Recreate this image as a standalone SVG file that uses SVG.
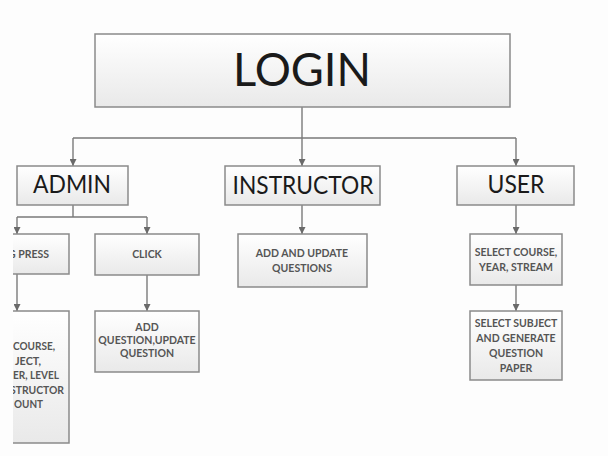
<svg xmlns="http://www.w3.org/2000/svg" width="608" height="456" viewBox="0 0 608 456">
<style>
.box{fill:url(#g);stroke:#8a8a8a;stroke-width:1.5}
.big{font-family:Lato,"Liberation Sans",sans-serif;fill:#1a1a1a;text-anchor:middle}
.sm{font-family:Lato,"Liberation Sans",sans-serif;font-weight:bold;fill:#555;text-anchor:middle;font-size:10.5px}
.lf{font-family:Lato,"Liberation Sans",sans-serif;font-weight:bold;fill:#555;font-size:11.5px}
.ln{fill:none;stroke:#7a7a7a;stroke-width:1.4}
.ar{marker-end:url(#ah)}
</style>
<defs>
<linearGradient id="g" x1="0" y1="0" x2="0" y2="1">
<stop offset="0" stop-color="#ffffff"/>
<stop offset="1" stop-color="#e9e9e9"/>
</linearGradient>
<marker id="ah" markerUnits="userSpaceOnUse" markerWidth="7" markerHeight="7" refX="7" refY="3.5" orient="auto">
<path d="M0,0 L7,3.5 L0,7 z" fill="#6a6a6a"/>
</marker>
<clipPath id="cl"><rect x="13" y="0" width="595" height="456"/></clipPath>
</defs>
<rect width="608" height="456" fill="#fdfdfd"/>
<g id="connectors">
<path class="ln" d="M302,107 V138 M73,138 H516"/>
<path class="ln ar" d="M73,138 V166"/>
<path class="ln ar" d="M302,138 V166"/>
<path class="ln ar" d="M516,138 V166"/>
<path class="ln" d="M73,205 V217 M17,217 H147"/>
<path class="ln ar" d="M17,217 V234"/>
<path class="ln ar" d="M147,217 V234"/>
<path class="ln ar" d="M17,274 V311"/>
<path class="ln ar" d="M147,275 V311"/>
<path class="ln ar" d="M302,205 V234"/>
<path class="ln ar" d="M516,205 V234"/>
<path class="ln ar" d="M516,285 V311"/>
</g>
<g id="login">
<rect class="box" x="95" y="34" width="415" height="73"/>
<text class="big" x="302" y="86" font-size="46" textLength="138" lengthAdjust="spacingAndGlyphs">LOGIN</text>
</g>
<g id="admin">
<rect class="box" x="17" y="166" width="111" height="39"/>
<text class="big" x="72" y="193" font-size="25" textLength="78" lengthAdjust="spacingAndGlyphs">ADMIN</text>
</g>
<g id="instructor">
<rect class="box" x="225" y="166" width="155" height="39"/>
<text class="big" x="303" y="194" font-size="25" textLength="141" lengthAdjust="spacingAndGlyphs">INSTRUCTOR</text>
</g>
<g id="user">
<rect class="box" x="457" y="166" width="117" height="39"/>
<text class="big" x="516" y="193" font-size="25" textLength="57" lengthAdjust="spacingAndGlyphs">USER</text>
</g>
<g id="press" clip-path="url(#cl)">
<rect class="box" x="-60" y="234" width="129" height="40"/>
<text class="sm" x="49" y="258" style="text-anchor:end">G PRESS</text>
</g>
<g id="click">
<rect class="box" x="95" y="234" width="104" height="41"/>
<text class="sm" x="147" y="258">CLICK</text>
</g>
<g id="account" clip-path="url(#cl)">
<rect class="box" x="-60" y="311" width="129" height="132"/>
<text class="lf" x="13" y="350" textLength="42" lengthAdjust="spacingAndGlyphs">COURSE,</text>
<text class="lf" x="15" y="365" textLength="26" lengthAdjust="spacingAndGlyphs">JECT,</text>
<text class="lf" x="13" y="379" textLength="46" lengthAdjust="spacingAndGlyphs">ER, LEVEL</text>
<text class="lf" x="10" y="394" textLength="54" lengthAdjust="spacingAndGlyphs">STRUCTOR</text>
<text class="lf" x="14" y="408" textLength="29" lengthAdjust="spacingAndGlyphs">OUNT</text>
</g>
<g id="addq">
<rect class="box" x="95" y="311" width="104" height="61"/>
<text class="sm" x="147" y="331" font-size="9.5">ADD</text>
<text class="sm" x="147" y="344" font-size="9.5">QUESTION,UPDATE</text>
<text class="sm" x="147" y="357" font-size="9.5">QUESTION</text>
</g>
<g id="addupdate">
<rect class="box" x="238" y="234" width="129" height="53"/>
<text class="sm" x="302" y="257">ADD AND UPDATE</text>
<text class="sm" x="302" y="272">QUESTIONS</text>
</g>
<g id="selcourse">
<rect class="box" x="470" y="234" width="92" height="51"/>
<text class="sm" x="516" y="256">SELECT COURSE,</text>
<text class="sm" x="516" y="271">YEAR, STREAM</text>
</g>
<g id="selsubject">
<rect class="box" x="470" y="311" width="92" height="69"/>
<text class="sm" x="516" y="327">SELECT SUBJECT</text>
<text class="sm" x="516" y="342">AND GENERATE</text>
<text class="sm" x="516" y="357">QUESTION</text>
<text class="sm" x="516" y="372">PAPER</text>
</g>
</svg>
